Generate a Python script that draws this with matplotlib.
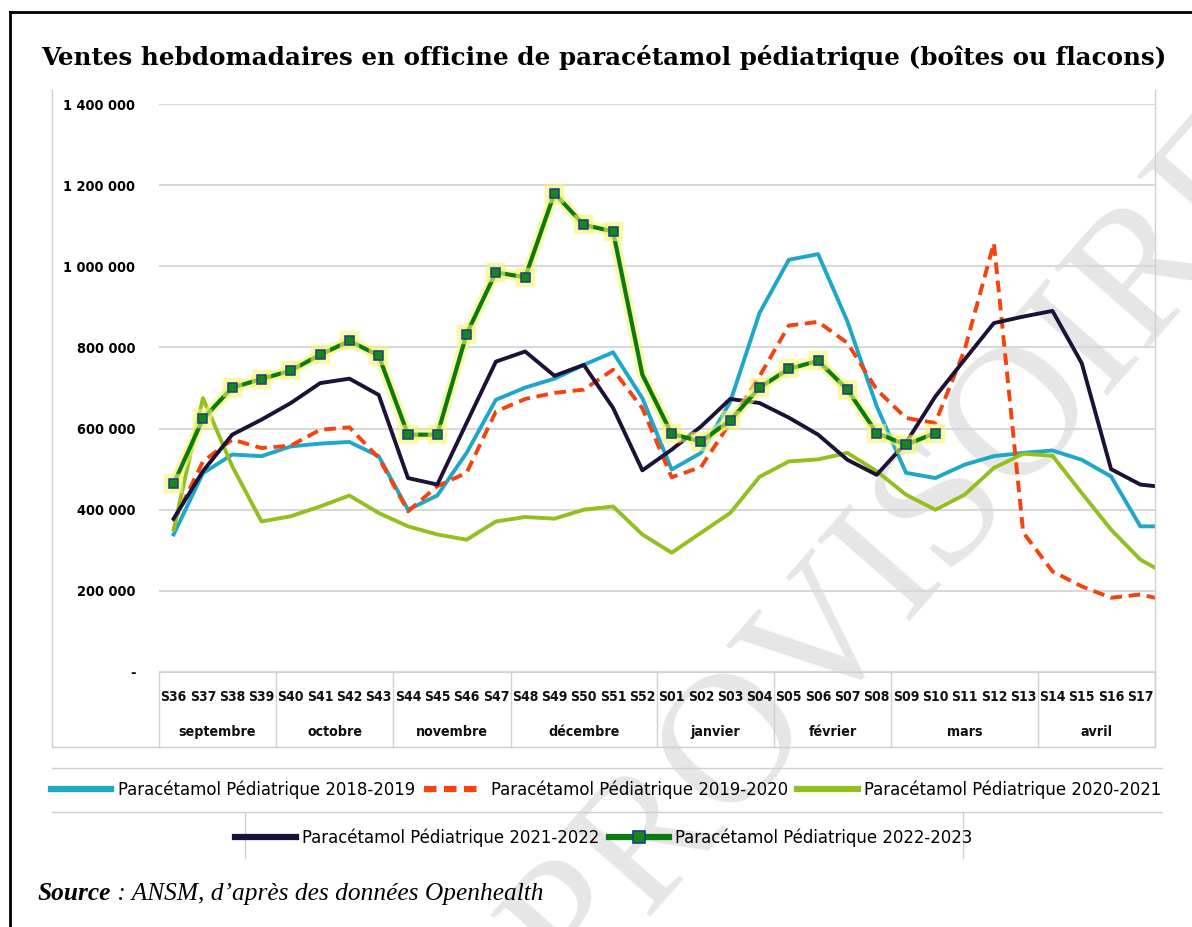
import os
import numpy as np
import matplotlib
matplotlib.use('Agg')
import matplotlib.pyplot as plt
from matplotlib.lines import Line2D
from matplotlib import transforms, patheffects, font_manager

# weekly sales (boxes or bottles), in thousands
weeks = ['S36', 'S37', 'S38', 'S39', 'S40', 'S41', 'S42', 'S43', 'S44', 'S45',
         'S46', 'S47', 'S48', 'S49', 'S50', 'S51', 'S52',
         'S01', 'S02', 'S03', 'S04', 'S05', 'S06', 'S07', 'S08', 'S09',
         'S10', 'S11', 'S12', 'S13', 'S14', 'S15', 'S16', 'S17', 'S18']
months = ['septembre', 'octobre', 'novembre', 'décembre', 'janvier',
          'février', 'mars', 'avril']
month_weeks = [4, 4, 4, 5, 4, 4, 5, 4]

s1819 = [339, 490, 536, 532, 556, 563, 567, 532, 400, 435, 540, 671, 701, 723,
         757, 788, 675, 499, 540, 666, 885, 1016, 1030, 864, 655, 491, 478, 511,
         532, 540, 546, 523, 482, 359, 359]
s1920 = [370, 519, 573, 552, 558, 597, 603, 528, 396, 458, 491, 642, 673, 688,
         696, 745, 650, 480, 505, 615, 729, 854, 863, 811, 696, 626, 614, 794,
         1057, 344, 248, 211, 183, 191, 175]
s2021 = [351, 675, 507, 371, 384, 408, 435, 392, 359, 339, 326, 371, 382, 378,
         400, 408, 339, 294, 343, 392, 481, 519, 524, 540, 495, 437, 400, 437,
         503, 538, 533, 441, 351, 277, 237]
s2122 = [378, 495, 585, 622, 663, 712, 723, 683, 478, 462, 614, 765, 790, 730,
         757, 651, 497, 548, 605, 673, 663, 627, 585, 523, 486, 565, 679, 770,
         860, 876, 890, 761, 500, 462, 454]
s2223 = [464, 624, 701, 722, 743, 782, 816, 780, 585, 585, 833, 985, 973, 1180,
         1102, 1086, 733, 587, 568, 620, 701, 747, 767, 696, 589, 560, 589]

labels = ['Paracétamol Pédiatrique 2018-2019', 'Paracétamol Pédiatrique 2019-2020',
          'Paracétamol Pédiatrique 2020-2021', 'Paracétamol Pédiatrique 2021-2022',
          'Paracétamol Pédiatrique 2022-2023']

W, H = 1192, 927


def fx(x):
    return x / W


def fy(y):
    return 1 - y / H


def find_condensed(bold):
    # look for a narrow sans face (Calibri-like look); None if nothing installed
    prefs = ['Liberation Sans Narrow', 'Noto Sans', 'DejaVu Sans', 'Open Sans',
             'Roboto', 'Lato', 'Inter']
    found = []
    for f in font_manager.fontManager.ttflist:
        nm = f.name + ' ' + os.path.basename(f.fname)
        st = str(f.stretch)
        cond = ('Narrow' in nm or 'Condensed' in nm or
                st in ('condensed', 'semi-condensed'))
        if not cond or 'Extra' in nm or 'Ultra' in nm or f.style != 'normal':
            continue
        w = f.weight if isinstance(f.weight, int) else \
            font_manager.weight_dict.get(f.weight, 400)
        if bold and not 600 <= w <= 800:
            continue
        if not bold and w != 400:
            continue
        rank = len(prefs)
        for i, p in enumerate(prefs):
            if f.name.startswith(p):
                rank = i
                break
        semi = 1 if 'Semi' in nm else 0
        found.append((rank, semi, f.fname))
    if not found:
        return None
    found.sort()
    return font_manager.FontProperties(fname=found[0][2])


cond_reg = find_condensed(False)
cond_bold = find_condensed(True)
if cond_reg is not None and cond_bold is not None:
    k = 1.0
else:
    cond_reg = font_manager.FontProperties(family='DejaVu Sans')
    cond_bold = font_manager.FontProperties(family='DejaVu Sans', weight='bold')
    k = 0.8


def fp(base, size):
    p = base.copy()
    p.set_size(size)
    return p


serif = 'Liberation Serif'

fig = plt.figure(figsize=(W / 100, H / 100), dpi=100)
fig.patch.set_facecolor('white')

# watermark behind everything
fig.text(fx(905), fy(553), 'PROVISOIRE', rotation=48.8, rotation_mode='anchor',
         ha='center', va='center', fontsize=134, color='#e6e6e6',
         family=serif, zorder=-5)

ax = fig.add_axes([fx(159), fy(672), (1155 - 159) / W, (672 - 104) / H])
ax.patch.set_visible(False)

x = np.arange(len(weeks))
v1 = np.array(s1819) * 1000
v2 = np.array(s1920) * 1000
v3 = np.array(s2021) * 1000
v4 = np.array(s2122) * 1000
v5 = np.array(s2223) * 1000

c1, c2, c3, c4 = '#1ea7c9', '#f5420f', '#93c01f', '#1c1238'
ax.plot(x, v1, color=c1, lw=2.8, zorder=2)
ax.plot(x, v2, color=c2, lw=2.8, ls=(0, (3, 1.7)), zorder=3)
ax.plot(x, v3, color=c3, lw=2.8, zorder=4)
ax.plot(x, v4, color=c4, lw=2.8, zorder=5)
glow = [patheffects.withStroke(linewidth=7.5, foreground='#f5f56e', alpha=0.6)]
mk = [i for i in range(len(v5)) if i != 16]
ax.plot(x[:len(v5)], v5, color='#0c7a12', lw=3, marker='s', ms=6.5,
        mfc='#17861b', mec='#1d3c8c', mew=1.1, markevery=mk,
        path_effects=glow, zorder=6)

ax.set_xlim(-0.5, 33.5)
ax.set_ylim(0, 1400000)
ax.set_xticks([])
yt = np.arange(0, 1400001, 200000)
ax.set_yticks(yt)
ax.set_yticklabels(['-' if v == 0 else f'{v:,}'.replace(',', ' ') for v in yt],
                   fontproperties=fp(cond_bold, 10.4 * k))
ax.tick_params(axis='y', length=0, pad=17)
ax.yaxis.grid(True, color='#d9d9d9', lw=1.5)
ax.set_axisbelow(True)
for s in ['top', 'right', 'left']:
    ax.spines[s].set_visible(False)
ax.spines['bottom'].set_color('#d0d0d0')

# two-row category axis (weeks, months)
blend = transforms.blended_transform_factory(ax.transData, fig.transFigure)
for i, w in enumerate(weeks[:34]):
    ax.text(i, fy(697), w, transform=blend, ha='center', va='center',
            fontproperties=fp(cond_bold, 10 * k), color='#111111')
start = 0
bounds = [-0.5]
for m, n in zip(months, month_weeks):
    ax.text(start + (n - 1) / 2, fy(732), m, transform=blend, ha='center',
            va='center', fontproperties=fp(cond_bold, 10.2 * k),
            color='#111111')
    start += n
    bounds.append(start - 0.5)
for b in bounds:
    fig.add_artist(Line2D([b, b], [fy(672), fy(746)], transform=blend,
                          color='#d0d0d0', lw=1))

# chart area borders
gray = '#cfcfcf'
fig.add_artist(Line2D([fx(52), fx(52)], [fy(90), fy(747)], color=gray, lw=1))
fig.add_artist(Line2D([fx(52), fx(1155)], [fy(747), fy(747)], color=gray, lw=1))
fig.add_artist(Line2D([fx(1155), fx(1155)], [fy(90), fy(747)], color=gray, lw=1))
fig.add_artist(Line2D([fx(52), fx(1162)], [fy(768), fy(768)], color=gray, lw=1))
fig.add_artist(Line2D([fx(52), fx(1162)], [fy(812), fy(812)], color=gray, lw=1))
fig.add_artist(Line2D([fx(245), fx(245)], [fy(812), fy(858)], color=gray, lw=1))
fig.add_artist(Line2D([fx(963), fx(963)], [fy(812), fy(858)], color=gray, lw=1))

# outer black frame
fig.add_artist(Line2D([fx(10), fx(10)], [fy(12), 0], color='black', lw=2))
fig.add_artist(Line2D([fx(10), 1], [fy(12), fy(12)], color='black', lw=2))

# legend in two rows
h1 = Line2D([], [], color=c1, lw=4.5)
h2 = Line2D([], [], color=c2, lw=4.5, ls=(0, (2, 1.2)))
h3 = Line2D([], [], color=c3, lw=4.5)
h4 = Line2D([], [], color=c4, lw=4.5)
h5 = Line2D([], [], color='#0c7a12', lw=4.5, marker='s', ms=9, mfc='#17861b',
            mec='#1d3c8c', mew=1.2)
lp = fp(cond_reg, 13.2 * k)
fig.legend([h1, h2, h3], labels[:3], loc='center',
           bbox_to_anchor=(fx(606), fy(790)), ncol=3, frameon=False, prop=lp,
           handlelength=3.3, handletextpad=0.35, columnspacing=0.5,
           borderpad=0, borderaxespad=0)
fig.legend([h4, h5], labels[3:], loc='center',
           bbox_to_anchor=(fx(604), fy(838)), ncol=2, frameon=False, prop=lp,
           handlelength=3.3, handletextpad=0.35, columnspacing=0.5,
           borderpad=0, borderaxespad=0)

fig.text(fx(604), fy(58), 'Ventes hebdomadaires en officine de paracétamol '
         'pédiatrique (boîtes ou flacons)', ha='center', va='center',
         fontsize=17.7, fontweight='bold', family='DejaVu Serif')

t1 = fig.text(fx(38), fy(900), 'Source', fontsize=18.25, fontweight='bold',
              style='italic', family=serif, va='baseline')
ax.annotate(' : ANSM, d\u2019après des données Openhealth', xy=(1, 0),
            xycoords=t1, va='bottom', ha='left', fontsize=18.25, style='italic',
            family=serif, annotation_clip=False)

fig.savefig('out.png', dpi=100)
